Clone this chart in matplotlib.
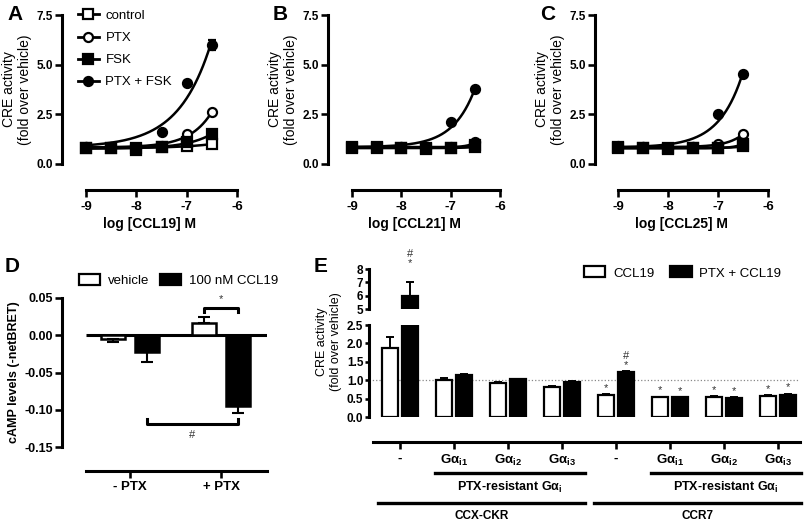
import numpy as np
import matplotlib.pyplot as plt
from matplotlib.lines import Line2D
from matplotlib.patches import Patch
from matplotlib.ticker import FormatStrFormatter
import matplotlib.transforms as mtransforms

plt.rcParams['font.family'] = ['Liberation Sans', 'DejaVu Sans']
plt.rcParams['mathtext.default'] = 'regular'
plt.rcParams['axes.unicode_minus'] = False

# ---------------- data: CRE dose-response (A-C) ----------------
log_conc = [-9.0, -8.5, -8.0, -7.5, -7.0, -6.5]
series_names = ['control', 'PTX', 'FSK', 'PTX + FSK']

ccl19_control = [0.80, 0.80, 0.80, 0.85, 0.90, 1.00]
ccl19_ptx = [0.85, 0.85, 0.80, 0.90, 1.50, 2.60]
ccl19_fsk = [0.80, 0.80, 0.70, 0.85, 1.10, 1.50]
ccl19_ptx_fsk = [0.85, 0.85, 0.80, 1.60, 4.10, 6.00]
ccl19_ptx_fsk_err = [0.05, 0.05, 0.05, 0.08, 0.10, 0.25]

ccl21_control = [0.85, 0.85, 0.80, 0.80, 0.80, 0.85]
ccl21_ptx = [0.85, 0.85, 0.85, 0.80, 0.85, 1.10]
ccl21_fsk = [0.80, 0.80, 0.80, 0.75, 0.80, 0.95]
ccl21_ptx_fsk = [0.85, 0.85, 0.85, 0.80, 2.10, 3.80]

ccl25_control = [0.85, 0.80, 0.80, 0.80, 0.80, 0.90]
ccl25_ptx = [0.90, 0.85, 0.80, 0.85, 1.00, 1.50]
ccl25_fsk = [0.80, 0.80, 0.75, 0.80, 0.80, 1.00]
ccl25_ptx_fsk = [0.85, 0.85, 0.80, 0.85, 2.50, 4.55]

# ---------------- data: cAMP BRET (D) ----------------
d_groups = ['- PTX', '+ PTX']
d_vehicle = [-0.005, 0.017]
d_vehicle_err = [0.004, 0.008]
d_ccl19 = [-0.023, -0.095]
d_ccl19_err = [0.013, 0.009]

# ---------------- data: CRE with Gai mutants (E) ----------------
e_ticklabels = ['-', 'G\u03b1$_{i1}$', 'G\u03b1$_{i2}$', 'G\u03b1$_{i3}$',
                '-', 'G\u03b1$_{i1}$', 'G\u03b1$_{i2}$', 'G\u03b1$_{i3}$']
e_ccl19 = [1.88, 1.00, 0.93, 0.82, 0.60, 0.53, 0.54, 0.57]
e_ccl19_err = [0.29, 0.05, 0.03, 0.02, 0.02, 0.02, 0.02, 0.02]
e_ptx_ccl19 = [5.95, 1.14, 1.02, 0.95, 1.22, 0.53, 0.52, 0.61]
e_ptx_ccl19_err = [1.05, 0.04, 0.02, 0.02, 0.02, 0.01, 0.01, 0.02]
e_ccl19_sig = ['', '', '', '', '*', '*', '*', '*']
e_ptx_sig = ['#\n*', '', '', '', '#\n*', '*', '*', '*']
e_receptors = ['CCX-CKR', 'CCR7']
e_receptor_groups = [(0, 3), (4, 7)]
e_mutant_groups = [(1, 3), (5, 7)]

W, H = 805, 522
fig = plt.figure(figsize=(W / 100, H / 100), dpi=100)


def px_axes(left, top, right, bottom):
    return fig.add_axes([left / W, 1 - bottom / H, (right - left) / W, (bottom - top) / H])


def prism_axis(ax, lw=2.2):
    for s in ['top', 'right']:
        ax.spines[s].set_visible(False)
    for s in ['left', 'bottom']:
        ax.spines[s].set_linewidth(lw)
    ax.tick_params(width=lw * 0.85, length=5, pad=1.5, direction='out', labelsize=8.5)
    for t in ax.get_xticklabels() + ax.get_yticklabels():
        t.set_fontweight('bold')


def fit_curve(x, y):
    # baseline from the low-dose points, then y = base + c * 10^(k (x - xmax))
    x = np.asarray(x)
    y = np.asarray(y)
    base = np.mean(y[:3])
    best = None
    for k in np.linspace(0.2, 3.0, 113):
        g = 10 ** (k * (x - x.max()))
        c = max(np.dot(g, y - base) / np.dot(g, g), 0)
        err = np.sum((base + c * g - y) ** 2)
        if best is None or err < best[0]:
            best = (err, k, c)
    _, k, c = best
    xs = np.linspace(x.min(), x.max(), 200)
    return xs, base + c * 10 ** (k * (xs - x.max()))


markers = ['s', 'o', 's', 'o']
faces = ['white', 'white', 'black', 'black']

panels = [
    ('A', 'log [CCL19] M', (62, 237), [ccl19_control, ccl19_ptx, ccl19_fsk, ccl19_ptx_fsk]),
    ('B', 'log [CCL21] M', (328, 500), [ccl21_control, ccl21_ptx, ccl21_fsk, ccl21_ptx_fsk]),
    ('C', 'log [CCL25] M', (595, 768), [ccl25_control, ccl25_ptx, ccl25_fsk, ccl25_ptx_fsk]),
]
x_first_px = {'A': 86, 'B': 352, 'C': 618}

for label, xlabel, (left, right), series in panels:
    ax = px_axes(left, 15, right, 164)
    span = right - x_first_px[label]
    ax.set_xlim(-6 - 3 * (right - left) / span, -6)
    ax.set_ylim(0, 7.5)
    for i, ys in enumerate(series):
        xs, fit = fit_curve(log_conc, ys)
        ax.plot(xs, fit, color='black', lw=1.8, zorder=2, clip_on=False)
        yerr = ccl19_ptx_fsk_err if (label == 'A' and i == 3) else None
        ax.errorbar(log_conc, ys, yerr=yerr, fmt=markers[i], mfc=faces[i], mec='black',
                    ms=6.5, mew=1.6, ecolor='black', elinewidth=1.5, capsize=3,
                    zorder=3, clip_on=False)
    ax.set_xticks([-9, -8, -7, -6])
    ax.set_yticks([0, 2.5, 5, 7.5])
    ax.yaxis.set_major_formatter(FormatStrFormatter('%.1f'))
    ax.spines['bottom'].set_position(('outward', 19))
    ax.spines['bottom'].set_bounds(-9, -6)
    ax.spines['left'].set_bounds(0, 7.5)
    prism_axis(ax)
    ax.tick_params(axis='x', labelsize=9.5, pad=2.5)
    ax.set_xlabel(xlabel, fontsize=10, fontweight='bold', labelpad=3)
    ax.set_ylabel('CRE activity\n(fold over vehicle)', fontsize=10, labelpad=3)
    fig.text((left - 55) / W, 1 - 15 / H, label, fontsize=15, fontweight='bold',
             ha='left', va='center')
    if label == 'A':
        handles = [Line2D([], [], color='black', lw=2, marker=markers[i], mfc=faces[i],
                          mec='black', ms=6.5, mew=1.6) for i in range(4)]
        ax.legend(handles, series_names, loc='upper left', bbox_to_anchor=(0.06, 1.07),
                  frameon=False, fontsize=9.5, handlelength=1.6, handletextpad=0.5,
                  labelspacing=0.75, borderaxespad=0)

# ---------------- panel D ----------------
axD = px_axes(62, 298, 267, 447)
d_x = np.arange(len(d_groups))
d_off, d_w = 0.187, 0.26
axD.set_xlim(-(130 - 62) / 91, (267 - 130) / 91)
axD.set_ylim(-0.15, 0.05)


def away_from_zero(vals, errs):
    vals = np.asarray(vals)
    errs = np.asarray(errs)
    return [np.where(vals < 0, errs, 0), np.where(vals >= 0, errs, 0)]


axD.hlines(0, -0.48, axD.get_xlim()[1], color='black', lw=2.2, zorder=1)
axD.bar(d_x - d_off, d_vehicle, d_w, color='white', edgecolor='black', lw=1.8, zorder=2,
        yerr=away_from_zero(d_vehicle, d_vehicle_err),
        error_kw=dict(ecolor='black', elinewidth=1.5, capsize=4, capthick=1.5))
axD.bar(d_x + d_off, d_ccl19, d_w, color='black', edgecolor='black', lw=1.8, zorder=2,
        yerr=away_from_zero(d_ccl19, d_ccl19_err),
        error_kw=dict(ecolor='black', elinewidth=1.5, capsize=4, capthick=1.5))
# significance brackets
axD.plot([1 - d_off, 1 - d_off, 1 + d_off, 1 + d_off], [0.031, 0.037, 0.037, 0.031],
         color='black', lw=2.2, clip_on=False)
axD.text(1, 0.042, '*', ha='center', va='bottom', fontsize=8, color='#333333')
axD.plot([0 + d_off, 0 + d_off, 1 + d_off, 1 + d_off], [-0.113, -0.119, -0.119, -0.113],
         color='black', lw=2.2, clip_on=False)
axD.text(0.5 + d_off, -0.127, '#', ha='center', va='top', fontsize=8, color='#333333')
axD.set_xticks(d_x)
axD.set_xticklabels(d_groups)
axD.set_yticks([0.05, 0, -0.05, -0.10, -0.15])
axD.yaxis.set_major_formatter(FormatStrFormatter('%.2f'))
axD.spines['bottom'].set_position(('outward', 17))
axD.spines['bottom'].set_bounds(-0.48, axD.get_xlim()[1])
axD.spines['left'].set_bounds(-0.15, 0.05)
prism_axis(axD)
axD.tick_params(axis='y', labelsize=9)
axD.tick_params(axis='x', labelsize=9.5, length=5, pad=2.5)
axD.set_ylabel('cAMP levels (-netBRET)', fontsize=9, fontweight='bold', labelpad=3)
axD.legend([Patch(facecolor='white', edgecolor='black', lw=1.6),
            Patch(facecolor='black', edgecolor='black', lw=1.6)],
           ['vehicle', '100 nM CCL19'], loc='center left', bbox_to_anchor=(0.055, 1.12),
           ncol=2, frameon=False, fontsize=9.5, handlelength=1.6, handleheight=0.9,
           handletextpad=0.6, columnspacing=0.8, borderaxespad=0)
fig.text(5 / W, 1 - 266 / H, 'D', fontsize=15, fontweight='bold', ha='left', va='center')

# ---------------- panel E (broken axis) ----------------
e_x = np.arange(len(e_ccl19))
e_off, e_w = 0.185, 0.28
e_xlim = (-(400 - 369) / 54, (800 - 400) / 54)
axE = px_axes(369, 325, 800, 417)
axT = px_axes(369, 269, 800, 309)
for ax in (axE, axT):
    ax.set_xlim(*e_xlim)
    ax.bar(e_x - e_off, e_ccl19, e_w, color='white', edgecolor='black', lw=1.6, zorder=2,
           yerr=[np.zeros(len(e_x)), e_ccl19_err],
           error_kw=dict(ecolor='black', elinewidth=1.4, capsize=3, capthick=1.4))
    ax.bar(e_x + e_off, e_ptx_ccl19, e_w, color='black', edgecolor='black', lw=1.6, zorder=2,
           yerr=[np.zeros(len(e_x)), e_ptx_ccl19_err],
           error_kw=dict(ecolor='black', elinewidth=1.4, capsize=3, capthick=1.4))
axE.set_ylim(0, 2.5)
axT.set_ylim(5, 8)
axE.axhline(1.0, color='#888888', ls=':', lw=0.9, zorder=1)

for i in range(len(e_x)):
    for sig, vals, errs, dx in ((e_ccl19_sig[i], e_ccl19, e_ccl19_err, -e_off),
                                (e_ptx_sig[i], e_ptx_ccl19, e_ptx_ccl19_err, e_off)):
        if not sig:
            continue
        top = vals[i] + errs[i]
        tgt = axE if top <= 2.5 else axT
        y = top if top <= 2.5 else 8
        tgt.annotate(sig, xy=(i + dx, y), xytext=(0, 1), textcoords='offset points',
                     ha='center', va='bottom', fontsize=8, linespacing=0.85,
                     color='#333333', annotation_clip=False)

axE.set_xticks(e_x)
axE.set_xticklabels(e_ticklabels)
axE.set_yticks(np.arange(0, 2.51, 0.5))
axE.yaxis.set_major_formatter(FormatStrFormatter('%.1f'))
axE.spines['bottom'].set_position(('outward', 18))
axE.spines['bottom'].set_bounds(-0.5, e_xlim[1])
axE.spines['left'].set_bounds(0, 2.5)
prism_axis(axE)
axE.tick_params(axis='y', length=3, pad=1)
axE.tick_params(axis='x', labelsize=9.5, length=5, pad=2.5)

axT.spines['bottom'].set_visible(False)
axT.set_xticks([])
axT.set_yticks([5, 6, 7, 8])
axT.spines['left'].set_bounds(5, 8)
prism_axis(axT)
axT.tick_params(axis='y', length=3, pad=1)
axT.spines['bottom'].set_visible(False)

fig.text(329 / W, 1 - 342 / H, 'CRE activity\n(fold over vehicle)', rotation=90,
         ha='center', va='center', fontsize=9, multialignment='center')
fig.text(314 / W, 1 - 266 / H, 'E', fontsize=15, fontweight='bold', ha='left', va='center')

axT.legend([Patch(facecolor='white', edgecolor='black', lw=1.6),
            Patch(facecolor='black', edgecolor='black', lw=1.6)],
           ['CCL19', 'PTX + CCL19'], loc='center left',
           bbox_to_anchor=((579 - 369) / 431, (309 - 273) / 40),
           ncol=2, frameon=False, fontsize=9.5, handlelength=1.6, handleheight=0.9,
           handletextpad=0.6, columnspacing=1.2, borderaxespad=0)

# grouping lines under panel E
trE = mtransforms.blended_transform_factory(axE.transData, axE.transAxes)
for (a, b) in e_mutant_groups:
    axE.plot([a - 0.35, b + 0.42], [-0.61, -0.61], color='black', lw=2.4,
             transform=trE, clip_on=False)
    axE.text((a - 0.35 + b + 0.42) / 2, -0.77, 'PTX-resistant G\u03b1$_i$', transform=trE,
             ha='center', va='center', fontsize=9, fontweight='bold')
for name, (a, b) in zip(e_receptors, e_receptor_groups):
    axE.plot([a - 0.4, b + 0.42], [-0.935, -0.935], color='black', lw=2.4,
             transform=trE, clip_on=False)
    axE.text((a - 0.4 + b + 0.42) / 2, -1.075, name, transform=trE,
             ha='center', va='center', fontsize=8.5, fontweight='bold')

fig.savefig('out.png', dpi=100)
